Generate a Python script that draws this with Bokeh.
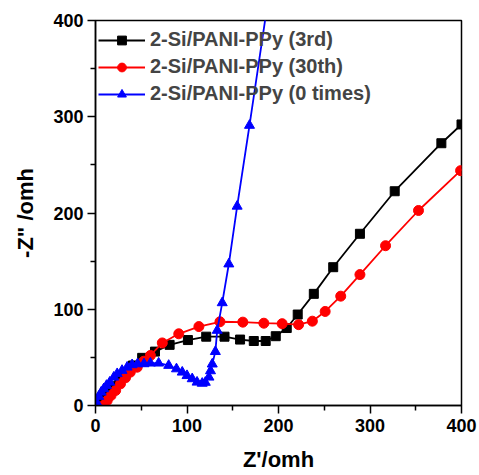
from bokeh.plotting import figure
from bokeh.embed import file_html
from bokeh.resources import INLINE
from bokeh.models import Range1d, FixedTicker

# Data (Z' in omh, -Z'' in omh)
x_3rd = [6, 10, 15, 20, 26, 33, 41, 51, 65, 81, 101, 121, 141, 158, 173, 186, 197, 209, 221, 238.6, 259.8, 289, 327, 378, 400]
y_3rd = [2, 8, 14, 20, 27, 34, 41.6, 49.5, 56, 63, 68, 71.5, 71.5, 68.5, 67, 67, 72, 80.5, 94.5, 116, 143.7, 178.4, 222.6, 272.5, 292]

x_30th = [9, 12.8, 17, 22, 27.3, 32.8, 38, 45.6, 52.8, 60, 73, 91, 113, 136, 161, 184, 204, 222, 237, 251, 268, 289, 317, 353, 399, 410]
y_30th = [0, 5.2, 10.4, 15.6, 22.5, 28.8, 34.6, 39.8, 46, 52, 65, 74.5, 82, 87, 86.6, 85.5, 85, 84, 87.6, 97.7, 113.6, 136, 166, 202.6, 244, 253]

x_0 = [1, 3.6, 6.2, 9, 12, 15.6, 20, 23.7, 29, 34.6, 40, 46, 53, 60, 69, 80, 88.5, 94.8, 100, 105.7, 111, 116.6, 120, 124, 125.7, 127.6, 131, 133, 138.5, 145.7, 154.8, 168.3, 190]
y_0 = [3.4, 9.4, 13.8, 17.3, 20.8, 24.2, 29.4, 33, 36.4, 39.8, 42.3, 43.3, 43.3, 44, 44, 41.6, 38, 34.6, 31, 27.7, 24.2, 23, 24, 29.4, 36, 43, 56, 78, 106.7, 147, 207, 291, 430]

labels = ["2-Si/PANI-PPy (3rd)", "2-Si/PANI-PPy (30th)", "2-Si/PANI-PPy (0 times)"]
x_ticks = [0, 100, 200, 300, 400]
y_ticks = [0, 100, 200, 300, 400]

FONT = "Liberation Sans"

p = figure(width=479, height=475, output_backend="svg", toolbar_location=None,
           x_range=Range1d(0, 400), y_range=Range1d(0, 400),
           min_border_left=95, min_border_right=18, min_border_top=20, min_border_bottom=70)
p.background_fill_color = "white"
p.border_fill_color = "white"
p.grid.visible = False
p.outline_line_color = "black"
p.outline_line_width = 1.5

p.line(x_3rd, y_3rd, color="black", line_width=1.8, legend_label=labels[0])
p.scatter(x_3rd, y_3rd, marker="square", size=9, color="black", legend_label=labels[0])
p.line(x_30th, y_30th, color="red", line_width=1.8, legend_label=labels[1])
p.scatter(x_30th, y_30th, marker="circle", size=10, color="red", legend_label=labels[1])
p.line(x_0, y_0, color="blue", line_width=1.8, legend_label=labels[2])
p.scatter(x_0, y_0, marker="triangle", size=10, color="blue", legend_label=labels[2])

for ax, ticks in ((p.xaxis[0], x_ticks), (p.yaxis[0], y_ticks)):
    ax.ticker = FixedTicker(ticks=ticks, minor_ticks=[50, 150, 250, 350])
    ax.axis_line_width = 1.5
    ax.axis_line_color = "black"
    ax.major_tick_in = 0
    ax.major_tick_out = 8
    ax.minor_tick_in = 0
    ax.minor_tick_out = 5
    ax.major_tick_line_width = 1.5
    ax.minor_tick_line_width = 1.5
    ax.major_label_text_font = FONT
    ax.major_label_text_font_style = "bold"
    ax.major_label_text_font_size = "18px"
    ax.major_label_text_color = "black"
    ax.axis_label_text_font = FONT
    ax.axis_label_text_font_style = "bold"
    ax.axis_label_text_font_size = "22px"
    ax.axis_label_text_color = "black"

p.xaxis.axis_label = "Z'/omh"
p.yaxis.axis_label = '-Z" /omh'
p.xaxis.major_label_standoff = 5
p.yaxis.major_label_standoff = 4
p.xaxis.axis_label_standoff = 12
p.yaxis.axis_label_standoff = 12

lg = p.legend[0]
lg.location = (3, 300)
lg.border_line_color = None
lg.background_fill_alpha = 0
lg.label_text_font = FONT
lg.label_text_font_style = "bold"
lg.label_text_font_size = "20px"
lg.glyph_width = 47
lg.glyph_height = 22
lg.label_height = 22
lg.spacing = 4
lg.padding = 0
lg.margin = 0
lg.label_standoff = 5

open("out.html", "w").write(file_html(p, INLINE))
